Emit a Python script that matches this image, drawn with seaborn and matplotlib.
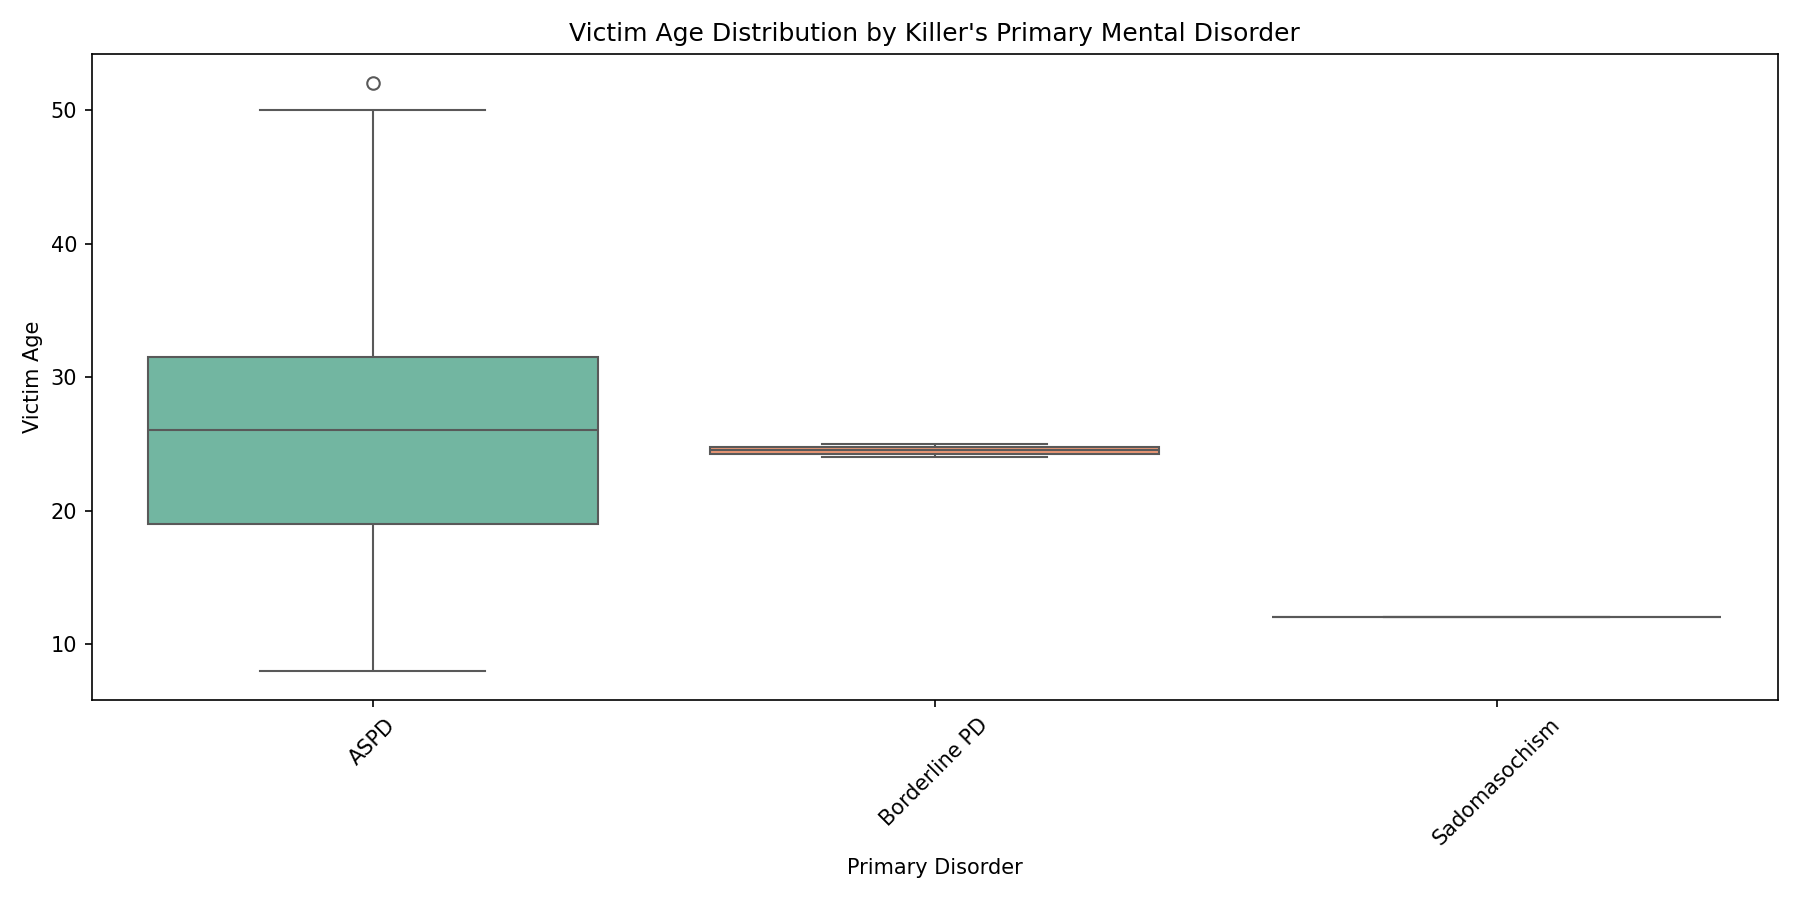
import matplotlib
matplotlib.use("Agg")
import matplotlib.pyplot as plt
import seaborn as sns
import pandas as pd

aspd_ages = [8, 12, 18, 20, 24, 26, 29, 31, 32, 50, 52]
borderline_ages = [24, 25]
sado_ages = [12]
categories = ["ASPD", "Borderline PD", "Sadomasochism"]

df = pd.DataFrame({
    "Primary Disorder": ["ASPD"] * len(aspd_ages) + ["Borderline PD"] * len(borderline_ages) + ["Sadomasochism"] * len(sado_ages),
    "Victim Age": aspd_ages + borderline_ages + sado_ages,
})

fig, ax = plt.subplots(figsize=(12, 6), dpi=150)
sns.boxplot(data=df, x="Primary Disorder", y="Victim Age", hue="Primary Disorder",
            order=categories, palette="Set2", legend=False, ax=ax)
ax.set_title("Victim Age Distribution by Killer's Primary Mental Disorder")
plt.xticks(rotation=45)
plt.tight_layout()
plt.savefig("out.png", dpi=150)
